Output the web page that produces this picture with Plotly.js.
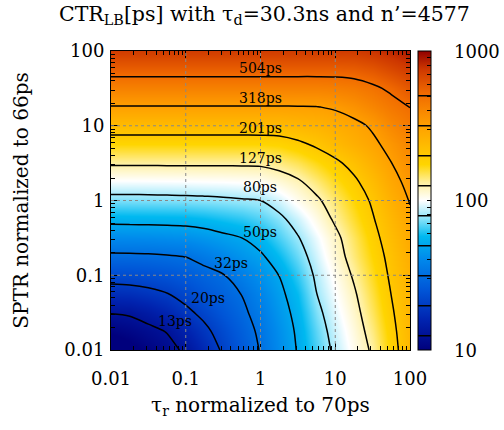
<!DOCTYPE html>
<html><head><meta charset="utf-8">
<script src="https://cdn.plot.ly/plotly-3.0.1.min.js"></script>
<style>html,body{margin:0;padding:0;background:#fff;}#chart{width:504px;height:430px;}</style>
</head><body><div id="chart"></div>
<script>
// x: tau_r normalized to 70ps ; y: SPTR normalized to 66ps
const tauR = [0.01, 0.0178, 0.0316, 0.0562, 0.1, 0.178, 0.316, 0.562, 1, 1.78, 3.16, 5.62, 10, 17.8, 31.6, 56.2, 100];
const sptr = [0.01, 0.0178, 0.0316, 0.0562, 0.1, 0.178, 0.316, 0.562, 1, 1.78, 3.16, 5.62, 10, 17.8, 31.6, 56.2, 100];
// log10 of CTR_LB in ps, one row per SPTR value (bottom to top)
const log10CTR = [
 [0.920, 0.968, 1.016, 1.064, 1.123, 1.222, 1.320, 1.415, 1.511, 1.611, 1.712, 1.823, 1.929, 2.023, 2.122, 2.253, 2.385],
 [1.014, 1.040, 1.072, 1.108, 1.191, 1.273, 1.357, 1.441, 1.528, 1.625, 1.722, 1.843, 1.948, 2.043, 2.147, 2.269, 2.390],
 [1.109, 1.118, 1.153, 1.205, 1.275, 1.336, 1.405, 1.474, 1.556, 1.648, 1.740, 1.870, 1.971, 2.065, 2.172, 2.287, 2.397],
 [1.237, 1.245, 1.267, 1.298, 1.345, 1.401, 1.453, 1.506, 1.590, 1.673, 1.765, 1.901, 1.995, 2.088, 2.195, 2.305, 2.405],
 [1.361, 1.365, 1.376, 1.394, 1.423, 1.461, 1.496, 1.566, 1.635, 1.705, 1.805, 1.924, 2.020, 2.117, 2.220, 2.322, 2.418],
 [1.479, 1.480, 1.484, 1.493, 1.505, 1.545, 1.590, 1.640, 1.685, 1.761, 1.850, 1.954, 2.052, 2.148, 2.243, 2.338, 2.434],
 [1.608, 1.610, 1.612, 1.618, 1.626, 1.647, 1.676, 1.703, 1.752, 1.822, 1.895, 1.984, 2.074, 2.169, 2.266, 2.361, 2.455],
 [1.737, 1.740, 1.742, 1.744, 1.747, 1.759, 1.778, 1.797, 1.830, 1.877, 1.948, 2.034, 2.120, 2.206, 2.293, 2.386, 2.480],
 [1.861, 1.862, 1.864, 1.866, 1.869, 1.875, 1.882, 1.892, 1.903, 1.952, 2.021, 2.084, 2.158, 2.237, 2.319, 2.420, 2.510],
 [1.990, 1.990, 1.991, 1.993, 1.994, 1.997, 1.999, 2.004, 2.012, 2.047, 2.088, 2.150, 2.215, 2.280, 2.365, 2.461, 2.540],
 [2.120, 2.120, 2.120, 2.120, 2.120, 2.120, 2.120, 2.120, 2.122, 2.142, 2.176, 2.227, 2.278, 2.343, 2.422, 2.501, 2.572],
 [2.240, 2.240, 2.240, 2.240, 2.240, 2.240, 2.240, 2.240, 2.241, 2.249, 2.278, 2.320, 2.372, 2.425, 2.478, 2.539, 2.610],
 [2.366, 2.366, 2.366, 2.366, 2.366, 2.366, 2.366, 2.366, 2.366, 2.367, 2.387, 2.406, 2.435, 2.470, 2.519, 2.595, 2.652],
 [2.496, 2.496, 2.496, 2.496, 2.496, 2.496, 2.496, 2.496, 2.496, 2.496, 2.497, 2.499, 2.518, 2.555, 2.607, 2.660, 2.705],
 [2.625, 2.625, 2.625, 2.625, 2.625, 2.625, 2.625, 2.625, 2.625, 2.625, 2.625, 2.625, 2.631, 2.647, 2.681, 2.724, 2.781],
 [2.749, 2.749, 2.749, 2.749, 2.749, 2.749, 2.749, 2.749, 2.749, 2.749, 2.749, 2.749, 2.749, 2.755, 2.779, 2.821, 2.866],
 [2.865, 2.865, 2.865, 2.865, 2.865, 2.865, 2.865, 2.865, 2.865, 2.865, 2.865, 2.865, 2.865, 2.867, 2.888, 2.916, 2.946]
];
// contour levels (ps) and their labels
const contourLabels = ['13ps', '20ps', '32ps', '50ps', '80ps', '127ps', '201ps', '318ps', '504ps'];
const labelTauR = [0.0713, 0.197, 0.4, 0.98, 0.98, 1.0, 1.0, 1.0, 1.0];
const labelSptr = [0.0243, 0.0494, 0.145, 0.378, 1.51, 3.70, 9.31, 23.5, 59.2];
const axisTicks = [0.01, 0.1, 1, 10, 100];
const axisTickText = ['0.01', '0.1', '1', '10', '100'];
const minorTicks = [0.02, 0.03, 0.04, 0.05, 0.06, 0.07, 0.08, 0.09,
  0.2, 0.3, 0.4, 0.5, 0.6, 0.7, 0.8, 0.9, 2, 3, 4, 5, 6, 7, 8, 9,
  20, 30, 40, 50, 60, 70, 80, 90];
const gridVals = [0.1, 1, 10];
const cbTicks = [10, 20, 30, 40, 50, 60, 70, 80, 90, 100, 200, 300, 400, 500, 600, 700, 800, 900, 1000];
const cbLabelVals = [10, 100, 1000];
const cbLabelText = ['10', '100', '1000'];
const chartTitle = 'CTR<sub>LB</sub>[ps] with \u03c4<sub>d</sub>=30.3ns and n\u2019=4577';

const FONT = 'DejaVu Serif';
const ZMIN = 1, ZMAX = 3;

const trace = {
  type: 'contour',
  x: tauR, y: sptr, z: log10CTR,
  zauto: false, zmin: ZMIN, zmax: ZMAX,
  colorscale: [
    [0, 'rgb(0,0,125)'],
    [0.1, 'rgb(0,35,175)'],
    [0.2, 'rgb(0,85,215)'],
    [0.3, 'rgb(0,135,235)'],
    [0.38, 'rgb(0,185,240)'],
    [0.44, 'rgb(140,228,250)'],
    [0.5, 'rgb(255,255,255)'],
    [0.56, 'rgb(255,240,160)'],
    [0.62, 'rgb(255,213,0)'],
    [0.75, 'rgb(255,160,0)'],
    [0.86, 'rgb(240,105,0)'],
    [0.94, 'rgb(205,55,0)'],
    [1, 'rgb(145,0,0)']
  ],
  contours: {coloring: 'heatmap', start: 1.103, end: 2.71, size: 0.2, showlabels: false},
  line: {color: '#000', width: 1.5, smoothing: 0.9},
  hoverinfo: 'skip',
  colorbar: {
    x: 1.0268, xanchor: 'left', xpad: 0, ypad: 0,
    y: 0.5, yanchor: 'middle', len: 1, lenmode: 'fraction',
    thickness: 13, thicknessmode: 'pixels',
    outlinewidth: 1, outlinecolor: '#000',
    tickmode: 'array',
    tickvals: cbTicks.map(Math.log10),
    showticklabels: false,
    ticks: 'inside', ticklen: 4, tickcolor: '#000', tickwidth: 1
  }
};

const annotations = contourLabels.map((t, i) => ({
  x: Math.log10(labelTauR[i]), y: Math.log10(labelSptr[i]), xref: 'x', yref: 'y',
  text: t, showarrow: false, xanchor: 'center', yanchor: 'middle',
  font: {family: FONT, size: 14, color: '#000'}
}));
// colour bar tick labels (placed next to the bar, log scale position)
cbLabelVals.forEach((v, i) => {
  annotations.push({
    x: 1.1405, xref: 'paper', xanchor: 'left',
    y: (Math.log10(v) - ZMIN) / (ZMAX - ZMIN), yref: 'paper', yanchor: 'middle',
    text: cbLabelText[i], showarrow: false,
    font: {family: FONT, size: 18, color: '#000'}
  });
});
// chart title
annotations.push({
  x: 0.515, xref: 'paper', xanchor: 'center',
  y: 1.12, yref: 'paper', yanchor: 'middle',
  text: chartTitle, showarrow: false,
  font: {family: FONT, size: 20.5, color: '#000'}
});

const shapes = [];
gridVals.forEach(v => {
  shapes.push({type: 'line', xref: 'x', yref: 'paper', x0: v, x1: v, y0: 0, y1: 1,
    line: {color: '#888', width: 1, dash: 'dot'}, layer: 'above'});
  shapes.push({type: 'line', xref: 'paper', yref: 'y', x0: 0, x1: 1, y0: v, y1: v,
    line: {color: '#888', width: 1, dash: 'dot'}, layer: 'above'});
});

function axisDef(title, standoffLbl, titleStandoff) {
  return {
    type: 'log', range: [-2, 2], tickmode: 'array', tickvals: axisTicks, ticktext: axisTickText,
    ticks: 'inside', ticklen: 7, tickwidth: 1, tickcolor: '#000',
    ticklabelstandoff: standoffLbl,
    minor: {tickmode: 'array', tickvals: minorTicks, ticks: 'inside', ticklen: 4, tickwidth: 1, tickcolor: '#000', showgrid: false},
    mirror: 'allticks', showline: true, linecolor: '#000', linewidth: 1,
    showgrid: false, zeroline: false, layer: 'above traces', automargin: false,
    tickfont: {family: FONT, size: 18, color: '#000'},
    title: {text: title, standoff: titleStandoff, font: {family: FONT, size: 20, color: '#000'}}
  };
}

const layout = {
  width: 504, height: 430,
  margin: {l: 111, r: 94, t: 51, b: 80},
  paper_bgcolor: '#fff', plot_bgcolor: '#fff',
  font: {family: FONT, size: 18, color: '#000'},
  showlegend: false,
  xaxis: axisDef('\u03c4<sub>r</sub> normalized to 70ps', 12, 10),
  yaxis: axisDef('SPTR normalized to 66ps', 2, 30),
  annotations: annotations,
  shapes: shapes
};

Plotly.newPlot('chart', [trace], layout, {staticPlot: true, displayModeBar: false});
</script>
</body></html>
